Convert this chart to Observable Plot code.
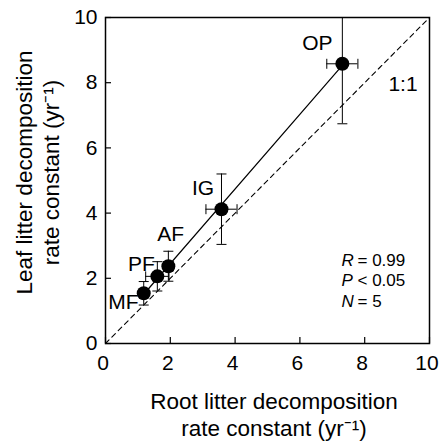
<!DOCTYPE html>
<html>
<head>
<meta charset="utf-8">
<script src="https://cdn.jsdelivr.net/npm/d3@7"></script>
<script src="https://cdn.jsdelivr.net/npm/@observablehq/plot@0.6"></script>
<style>
  html, body { margin: 0; padding: 0; background: #fff; }
</style>
</head>
<body>
<div id="chart"></div>
<script>
// ---- data ----
const sites    = ["MF", "PF", "AF", "IG", "OP"];
const rootK    = [1.18, 1.60, 1.94, 3.58, 7.31];   // x: root litter k (yr-1)
const rootErr  = [0.10, 0.36, 0.15, 0.48, 0.48];
const leafK    = [1.54, 2.06, 2.37, 4.12, 8.58];   // y: leaf litter k (yr-1)
const leafErr  = [0.36, 0.45, 0.46, 1.08, 1.84];
const axisTicks = [0, 2, 4, 6, 8, 10];
const oneToOne  = [0, 10];
const statLetters = ["R", "P", "N"];
const statValues  = ["= 0.99", "< 0.05", "= 5"];
const xTitle = "Root litter decomposition\nrate constant (yr\u207B\u00B9)";
const yTitle = "Leaf litter decomposition\nrate constant (yr\u207B\u00B9)";

const pts = sites.map((s, i) => ({site: s, x: rootK[i], xe: rootErr[i], y: leafK[i], ye: leafErr[i]}));

// error-bar cap symbols
const capH = {draw(ctx, size) { const r = Math.sqrt(size / Math.PI); ctx.moveTo(-r, 0); ctx.lineTo(r, 0); }};
const capV = {draw(ctx, size) { const r = Math.sqrt(size / Math.PI); ctx.moveTo(0, -r); ctx.lineTo(0, r); }};

const labelOffsets = {OP: [-25, -21], IG: [-18.5, -20.7], AF: [2.3, -32], PF: [-16, -12.2], MF: [-20.3, 8.6]};

const font = "'Liberation Sans', Arial, Helvetica, sans-serif";

const chart = Plot.plot({
  width: 439,
  height: 441,
  marginLeft: 105,
  marginRight: 10,
  marginTop: 17,
  marginBottom: 98,
  style: {fontFamily: font, background: "#fff", color: "#000"},
  x: {domain: [0, 10], label: null},
  y: {domain: [0, 10], label: null},
  marks: [
    // 1:1 line
    Plot.line(oneToOne, {x: d => d, y: d => d, stroke: "#000", strokeWidth: 1.1, strokeDasharray: "5,4"}),
    // regression line
    Plot.linearRegressionY(pts, {x: "x", y: "y", ci: 0, stroke: "#000", strokeWidth: 1.2}),
    // vertical error bars
    Plot.ruleX(pts, {x: "x", y1: d => d.y - d.ye, y2: d => d.y + d.ye, stroke: "#000", strokeWidth: 1, clip: true}),
    Plot.dot(pts, {x: "x", y: d => d.y - d.ye, symbol: capH, r: 5, stroke: "#000", fill: "none", strokeWidth: 1, clip: true}),
    Plot.dot(pts, {x: "x", y: d => d.y + d.ye, symbol: capH, r: 5, stroke: "#000", fill: "none", strokeWidth: 1, clip: true}),
    // horizontal error bars
    Plot.ruleY(pts, {y: "y", x1: d => d.x - d.xe, x2: d => d.x + d.xe, stroke: "#000", strokeWidth: 1, clip: true}),
    Plot.dot(pts, {x: d => d.x - d.xe, y: "y", symbol: capV, r: 5, stroke: "#000", fill: "none", strokeWidth: 1, clip: true}),
    Plot.dot(pts, {x: d => d.x + d.xe, y: "y", symbol: capV, r: 5, stroke: "#000", fill: "none", strokeWidth: 1, clip: true}),
    // points
    Plot.dot(pts, {x: "x", y: "y", r: 7, fill: "#000", stroke: "none"}),
    // site labels
    ...sites.map(s => Plot.text(pts.filter(d => d.site === s), {
      x: "x", y: "y", text: "site", fontSize: 21, fill: "#000",
      dx: labelOffsets[s][0], dy: labelOffsets[s][1]
    })),
    // 1:1 label
    Plot.text(["1:1"], {frameAnchor: "top-right", textAnchor: "middle", dx: -26.5, dy: 58.5, fontSize: 21, fill: "#000"}),
    // statistics
    Plot.text([statLetters.join("\n")], {frameAnchor: "bottom-right", textAnchor: "start", lineAnchor: "top",
      dx: -88, dy: -92, fontSize: 17, lineHeight: 1.2, fontStyle: "italic", fill: "#000"}),
    Plot.text([statValues.join("\n")], {frameAnchor: "bottom-right", textAnchor: "start", lineAnchor: "top",
      dx: -72, dy: -92, fontSize: 17, lineHeight: 1.2, fill: "#000"}),
    // frame
    Plot.frame({stroke: "#000", strokeWidth: 1.5}),
    // axes: labels and inward ticks
    Plot.axisX(axisTicks, {tickSize: 0, tickPadding: 12, fontSize: 21, dx: -2.5, tickFormat: d => String(d)}),
    Plot.axisX(axisTicks, {tickSize: -6, tickFormat: () => "", strokeWidth: 1.2}),
    Plot.axisY(axisTicks, {tickSize: 0, tickPadding: 8, fontSize: 21, tickFormat: d => String(d)}),
    Plot.axisY(axisTicks, {tickSize: -6, tickFormat: () => "", strokeWidth: 1.2}),
    // axis titles
    Plot.text([xTitle], {frameAnchor: "bottom", textAnchor: "middle", lineAnchor: "top", dx: 6.5, dy: 46, fontSize: 22.5, lineHeight: 1.2, fill: "#000"}),
    Plot.text([yTitle], {frameAnchor: "left", textAnchor: "middle", lineAnchor: "top", rotate: -90, dx: -92.6, dy: -8, fontSize: 22.5, lineHeight: 1.2, fill: "#000"})
  ]
});

document.getElementById("chart").appendChild(chart);
</script>
</body>
</html>
